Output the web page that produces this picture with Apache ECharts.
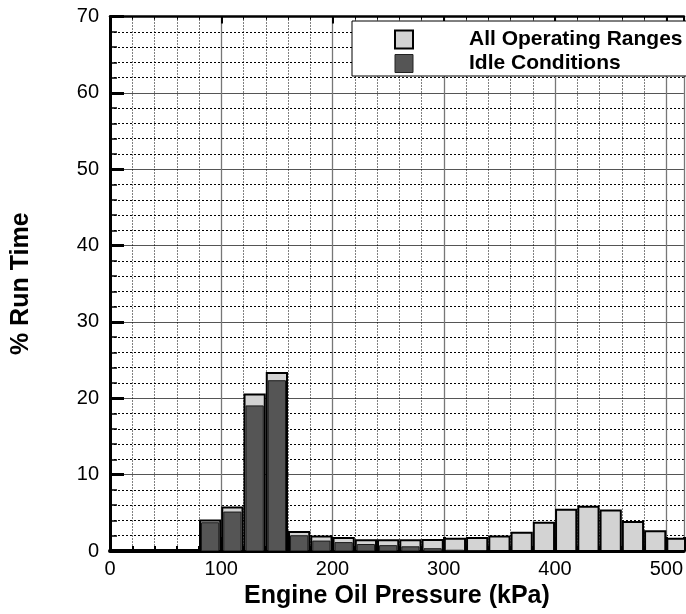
<!DOCTYPE html>
<html>
<head>
<meta charset="utf-8">
<script src="https://cdn.jsdelivr.net/npm/echarts@6/dist/echarts.min.js"></script>
<style>html,body{margin:0;padding:0;background:#fff}#c{width:686px;height:614px}</style>
</head>
<body>
<div id="c"></div>
<script>
// Bin start values (kPa), bin width 20 kPa
const binStart = [80,100,120,140,160,180,200,220,240,260,280,300,320,340,360,380,400,420,440,460,480,500];
const binWidth = 20;
// % Run Time
const allOperating = [4.0,5.7,20.5,23.3,2.5,1.9,1.7,1.4,1.4,1.4,1.45,1.6,1.7,1.9,2.4,3.7,5.4,5.8,5.3,3.8,2.6,1.6];
const idleConditions = [3.7,5.1,19.0,22.3,2.0,1.3,1.1,0.85,0.7,0.55,0.3,0.1,0.05,0,0,0,0,0,0,0,0,0];
const seriesNames = ['All Operating Ranges','Idle Conditions'];

const FONT = 'Liberation Sans, Arial, sans-serif';
const chart = echarts.init(document.getElementById('c'));

function mkData(vals){ return binStart.map((s,i)=>[s, s+binWidth, vals[i]]); }

function renderer(fill, stroke, lw, inset){
  return function(params, api){
    const p0 = api.coord([api.value(0), 0]);
    const p1 = api.coord([api.value(1), api.value(2)]);
    if (api.value(2) <= 0) return null;
    return {
      type:'rect',
      shape:{x:p0[0]+inset, y:p1[1], width:p1[0]-p0[0]-2*inset, height:p0[1]-p1[1]},
      style:{fill:fill, stroke:stroke, lineWidth:lw}
    };
  };
}

const xCommon = {type:'value', min:0, max:515.8, interval:100};

chart.setOption({
  animation:false,
  grid:{left:110, right:0, top:16.5, bottom:61.5},
  legend:{
    orient:'vertical', left:352, top:21,
    padding:[8,24,2,42], itemGap:3,
    backgroundColor:'#fff', borderColor:'#000', borderWidth:1,
    itemWidth:18, itemHeight:18, icon:'rect',
    textStyle:{fontFamily:FONT, fontWeight:'bold', fontSize:21, color:'#000', padding:[0,0,0,51]},
    data:[
      {name:seriesNames[0], itemStyle:{color:'#d3d3d3', borderColor:'#000', borderWidth:2}},
      {name:seriesNames[1], itemStyle:{color:'#555', borderColor:'#222', borderWidth:1}}
    ]
  },
  xAxis:[
    Object.assign({}, xCommon, {
      position:'bottom',
      name:'Engine Oil Pressure (kPa)', nameLocation:'middle', nameGap:33,
      nameTextStyle:{fontFamily:FONT, fontWeight:'bold', fontSize:25, color:'#000'},
      axisLine:{show:true, onZero:false, lineStyle:{color:'#000', width:4}},
      axisTick:{show:true, inside:true, length:14, lineStyle:{color:'#000', width:3}},
      minorTick:{show:true, splitNumber:5, length:5, lineStyle:{color:'#000', width:2}},
      axisLabel:{fontFamily:FONT, fontSize:20, color:'#000', margin:8, showMaxLabel:false},
      splitLine:{show:true, lineStyle:{color:'#777', width:1.3}},
      minorSplitLine:{show:true, lineStyle:{color:'#000', width:1, type:[1,2]}}
    }),
    Object.assign({}, xCommon, {
      position:'top',
      axisLine:{show:true, onZero:false, lineStyle:{color:'#000', width:2.5}},
      axisTick:{show:true, inside:true, length:7, lineStyle:{color:'#000', width:2}},
      minorTick:{show:true, splitNumber:5, length:3, lineStyle:{color:'#000', width:1}},
      axisLabel:{show:false}, splitLine:{show:false}
    })
  ],
  yAxis:{
    type:'value', min:0, max:70, interval:10,
    name:'% Run Time', nameLocation:'middle', nameGap:76,
    nameTextStyle:{fontFamily:FONT, fontWeight:'bold', fontSize:25, color:'#000'},
    axisLine:{show:true, onZero:false, lineStyle:{color:'#000', width:3}},
    axisTick:{show:true, inside:true, length:14, lineStyle:{color:'#000', width:3}},
    minorTick:{show:true, splitNumber:5, length:7, lineStyle:{color:'#000', width:1.5}},
    axisLabel:{fontFamily:FONT, fontSize:20, color:'#000', margin:11},
    splitLine:{show:true, lineStyle:{color:'#555', width:1.2}},
    minorSplitLine:{show:true, lineStyle:{color:'#000', width:1, type:[2,2]}}
  },
  series:[
    {
      name:seriesNames[0], type:'custom', xAxisIndex:0, clip:true,
      itemStyle:{color:'#d3d3d3'},
      encode:{x:[0,1], y:2},
      renderItem:renderer('#d3d3d3', '#000', 2, 1),
      data:mkData(allOperating), z:3
    },
    {
      name:seriesNames[1], type:'custom', xAxisIndex:0, clip:true,
      itemStyle:{color:'#555'},
      encode:{x:[0,1], y:2},
      renderItem:renderer('#555', '#1a1a1a', 1, 2.5),
      data:mkData(idleConditions), z:4
    }
  ]
});
</script>
</body>
</html>
